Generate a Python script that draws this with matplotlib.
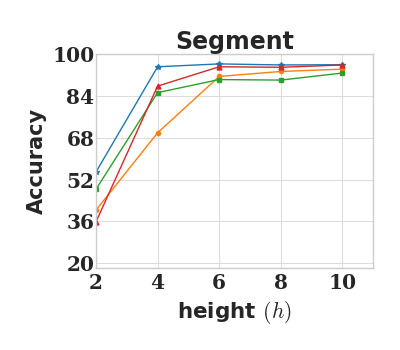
import matplotlib
matplotlib.use("Agg")
import matplotlib.pyplot as plt
import seaborn as sns

sns.set_theme(style="whitegrid")
plt.rcParams['font.family'] = ['DejaVu Sans']
plt.rcParams['mathtext.fontset'] = 'cm'

heights = [2, 4, 6, 8, 10]
blue_vals = [54.9, 95.2, 96.3, 95.9, 96.0]
orange_vals = [40.3, 69.9, 91.5, 93.4, 94.3]
green_vals = [48.3, 85.3, 90.3, 90.1, 92.8]
red_vals = [35.8, 87.8, 95.2, 95.0, 95.9]
yticks = [20, 36, 52, 68, 84, 100]
xticks = [2, 4, 6, 8, 10]

fig = plt.figure(figsize=(4, 3.5), dpi=100)
ax = fig.add_axes([0.24, 0.235, 0.693, 0.61])

ax.plot(heights, blue_vals, color='#1f77b4', marker='*', markersize=4, lw=1)
ax.plot(heights, orange_vals, color='#ff7f0e', marker='o', markersize=3, lw=1)
ax.plot(heights, green_vals, color='#2ca02c', marker='s', markersize=3, lw=1)
ax.plot(heights, red_vals, color='#d62728', marker='^', markersize=3.5, lw=1)

ax.set_xlim(2, 11)
ax.set_ylim(18.2, 100)
ax.set_xticks(xticks)
ax.set_yticks(yticks)
tick_font = dict(family='DejaVu Serif', weight='bold', size=14.5)
ax.set_xticklabels([str(v) for v in xticks], **tick_font)
ax.set_yticklabels([str(v) for v in yticks], **tick_font)
ax.tick_params(axis='y', pad=1, length=0)
ax.tick_params(axis='x', pad=4, length=0)
for s in ax.spines.values():
    s.set_color('#cccccc')
    s.set_linewidth(1)
ax.grid(color='#dddddd', lw=0.8)

ax.set_xlabel(r'height $(h)$', fontsize=15.5, fontweight='bold', labelpad=4)
ax.set_ylabel('Accuracy', fontsize=15, fontweight='bold', labelpad=4)
ax.set_title('Segment', fontsize=17, fontweight='bold', pad=4)

fig.savefig('out.png', dpi=100)
